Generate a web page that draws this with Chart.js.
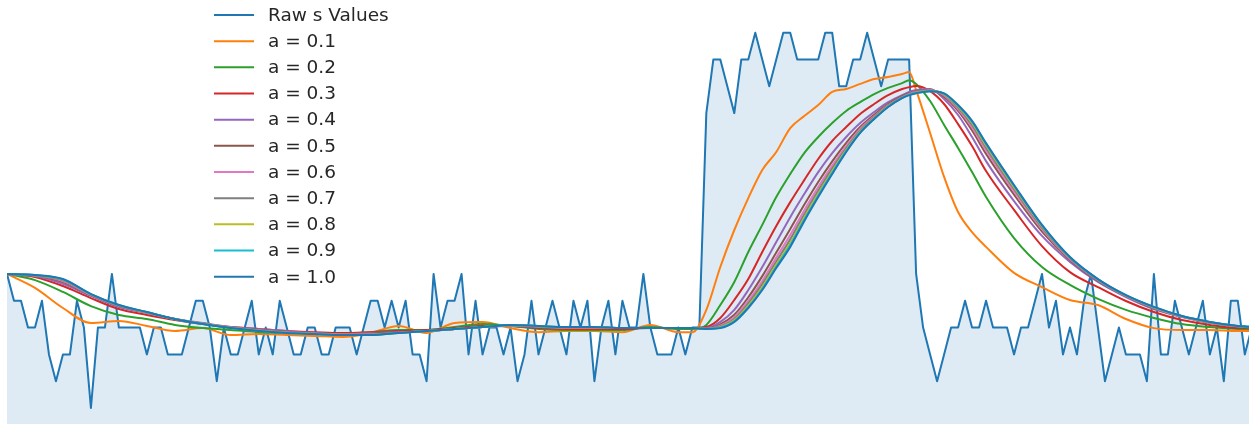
<!DOCTYPE html>
<html>
<head>
<meta charset="utf-8">
<script src="https://cdn.jsdelivr.net/npm/chart.js@4.4.1/dist/chart.umd.min.js"></script>
<style>
  html, body { margin: 0; padding: 0; background: #ffffff; overflow: hidden; }
  canvas { display: block; }
</style>
</head>
<body>
<canvas id="chart" width="1260" height="424"></canvas>
<script>
// Raw s values, one per step (step index = position in the array)
const rawValues = [
  6,5,5,4,4,5,3,2,3,3,
  5,4,1,4,4,6,4,4,4,4,
  3,4,4,3,3,3,4,5,5,4,
  2,4,3,3,4,5,3,4,3,5,
  4,3,3,4,4,3,3,4,4,4,
  3,4,5,5,4,5,4,5,3,3,
  2,6,4,5,5,6,3,5,3,4,
  4,3,4,2,3,5,3,4,5,4,
  3,5,4,5,2,4,5,3,5,4,
  4,6,4,3,3,3,4,3,4,4,
  12,14,14,13,12,14,14,15,14,13,
  14,15,15,14,14,14,14,15,15,13,
  13,14,14,15,14,13,14,14,14,14,
  6,4,3,2,3,4,4,5,4,4,
  5,4,4,4,3,4,4,5,6,4,
  5,3,4,3,5,6,4,2,3,4,
  3,3,3,2,6,3,3,5,4,3,
  4,5,3,4,2,5,5,3,4
];

// Steps at which the smoothed curves are sampled
const smoothIdx = [
  0,4,8,12,16,20,24,28,32,36,40,44,48,52,56,60,64,68,72,76,80,84,88,92,96,98,100,
  102,104,106,108,110,112,114,116,118,120,122,124,126,128,129,130,132,134,136,138,140,
  144,148,152,156,160,164,168,172,176,178
];

// Smoothed series, one value per entry of smoothIdx
const a01 = [6.00,5.48,4.73,4.17,4.25,4.06,3.87,3.98,3.72,3.76,3.72,3.69,3.65,3.80,4.06,3.80,4.17,4.21,3.98,3.83,3.87,3.87,3.83,4.10,3.83,3.83,4.66,
  6.26,7.64,8.83,9.88,10.55,11.44,11.89,12.30,12.79,12.90,13.09,13.27,13.35,13.46,13.53,12.86,11.26,9.62,8.31,7.56,7.01,
  6.04,5.51,5.03,4.84,4.32,3.98,3.91,3.91,3.87,3.87];
const a02 = [6.00,5.77,5.33,4.80,4.47,4.32,4.10,3.98,3.91,3.83,3.80,3.80,3.76,3.83,3.91,3.91,4.02,4.13,4.06,3.95,3.91,3.91,3.91,4.02,3.95,3.95,4.10,
  4.84,5.70,6.82,7.83,8.87,9.73,10.51,11.11,11.63,12.08,12.41,12.71,12.94,13.12,13.23,13.09,12.45,11.56,10.70,9.80,8.87,
  7.34,6.26,5.59,5.07,4.66,4.36,4.13,4.02,3.95,3.95];
const a03 = [6.00,5.89,5.55,5.10,4.69,4.47,4.28,4.13,4.02,3.95,3.87,3.83,3.80,3.83,3.87,3.91,3.98,4.06,4.06,3.98,3.95,3.95,3.95,3.98,3.98,3.98,4.02,
  4.36,5.03,5.81,6.82,7.79,8.68,9.50,10.29,10.96,11.48,11.97,12.34,12.67,12.90,12.97,13.01,12.82,12.34,11.59,10.77,9.84,
  8.39,7.04,6.07,5.51,4.99,4.58,4.28,4.10,3.98,3.98];
const a04 = [6.00,5.92,5.63,5.18,4.77,4.54,4.32,4.17,4.02,3.95,3.87,3.80,3.76,3.80,3.83,3.87,3.95,4.02,4.06,4.02,3.98,3.98,3.98,3.98,3.98,3.98,3.98,
  4.21,4.66,5.40,6.26,7.19,8.12,8.98,9.80,10.51,11.11,11.63,12.04,12.41,12.67,12.79,12.86,12.90,12.53,11.93,11.11,10.21,
  8.72,7.42,6.45,5.70,5.14,4.69,4.39,4.17,4.04,4.00];
const a05 = [6.00,5.94,5.70,5.21,4.80,4.56,4.32,4.15,4.00,3.92,3.84,3.78,3.74,3.77,3.82,3.87,3.95,4.02,4.08,4.04,4.00,4.00,3.98,3.98,3.98,3.98,3.95,
  4.12,4.48,5.13,5.92,6.80,7.68,8.58,9.43,10.20,10.89,11.48,11.94,12.34,12.63,12.74,12.81,12.87,12.61,12.08,11.35,10.48,
  8.96,7.58,6.52,5.74,5.17,4.72,4.41,4.19,4.05,4.01];
const a06 = [6.00,5.94,5.74,5.22,4.81,4.56,4.32,4.15,4.00,3.90,3.83,3.78,3.74,3.75,3.81,3.87,3.95,4.02,4.08,4.04,4.00,4.00,3.98,3.98,3.98,3.98,3.95,
  4.07,4.39,5.00,5.74,6.61,7.45,8.37,9.24,10.04,10.77,11.41,11.88,12.30,12.60,12.72,12.79,12.85,12.66,12.15,11.47,10.61,
  9.08,7.67,6.56,5.77,5.18,4.74,4.41,4.19,4.05,4.01];
const a07 = [6.00,5.95,5.77,5.23,4.82,4.57,4.32,4.14,3.99,3.89,3.82,3.77,3.73,3.74,3.81,3.87,3.95,4.02,4.09,4.05,4.01,4.01,3.98,3.98,3.98,3.98,3.95,
  4.04,4.32,4.90,5.62,6.46,7.29,8.22,9.10,9.93,10.69,11.35,11.85,12.28,12.59,12.70,12.77,12.84,12.69,12.21,11.56,10.71,
  9.17,7.73,6.59,5.78,5.19,4.75,4.42,4.20,4.05,4.02];
const a08 = [6.00,5.95,5.79,5.24,4.83,4.57,4.32,4.14,3.99,3.88,3.81,3.77,3.73,3.73,3.80,3.87,3.95,4.02,4.09,4.05,4.01,4.01,3.98,3.98,3.98,3.98,3.95,
  4.01,4.27,4.82,5.51,6.35,7.15,8.10,8.99,9.83,10.62,11.31,11.81,12.25,12.57,12.69,12.76,12.83,12.71,12.25,11.63,10.79,
  9.24,7.78,6.61,5.80,5.20,4.76,4.42,4.20,4.06,4.02];
const a09 = [6.00,5.96,5.80,5.25,4.84,4.58,4.32,4.13,3.98,3.87,3.80,3.76,3.72,3.72,3.80,3.87,3.95,4.02,4.10,4.06,4.02,4.02,3.98,3.98,3.98,3.98,3.95,
  3.99,4.23,4.76,5.44,6.27,7.07,8.02,8.92,9.77,10.58,11.28,11.79,12.24,12.57,12.68,12.75,12.82,12.73,12.28,11.68,10.85,
  9.29,7.81,6.62,5.80,5.21,4.77,4.43,4.21,4.06,4.02];
const a10 = [6.00,5.96,5.81,5.25,4.84,4.58,4.32,4.13,3.98,3.87,3.80,3.76,3.72,3.72,3.80,3.87,3.95,4.02,4.10,4.06,4.02,4.02,3.98,3.98,3.98,3.98,3.95,
  3.98,4.21,4.73,5.40,6.22,7.01,7.97,8.87,9.73,10.55,11.26,11.78,12.23,12.56,12.67,12.74,12.82,12.74,12.30,11.71,10.88,
  9.32,7.83,6.63,5.81,5.21,4.77,4.43,4.21,4.06,4.02];

const seriesLabels = ['Raw s Values', 'a = 0.1', 'a = 0.2', 'a = 0.3', 'a = 0.4', 'a = 0.5',
                      'a = 0.6', 'a = 0.7', 'a = 0.8', 'a = 0.9', 'a = 1.0'];
const seriesColors = ['#1f77b4', '#ff7f0e', '#2ca02c', '#d62728', '#9467bd', '#8c564b',
                      '#e377c2', '#7f7f7f', '#bcbd22', '#17becf', '#1f77b4'];

const smoothSeries = [a01, a02, a03, a04, a05, a06, a07, a08, a09, a10];

const rawPoints = rawValues.map((v, i) => ({ x: i, y: v }));
const smoothPoints = ys => ys.map((v, i) => ({ x: smoothIdx[i], y: v }));

const datasets = [{
  label: seriesLabels[0],
  data: rawPoints,
  borderColor: seriesColors[0],
  backgroundColor: 'rgba(31,119,180,0.15)',
  borderWidth: 2,
  fill: 'start',
  tension: 0,
  order: 20
}].concat(smoothSeries.map((ys, k) => ({
  label: seriesLabels[k + 1],
  data: smoothPoints(ys),
  borderColor: seriesColors[k + 1],
  backgroundColor: seriesColors[k + 1],
  borderWidth: 2,
  fill: false,
  cubicInterpolationMode: 'monotone',
  order: 10 - k
})));

// Legend drawn inside the plot, matching the dataset list order
const inlineLegend = {
  id: 'inlineLegend',
  afterDraw(chart) {
    const ctx = chart.ctx;
    ctx.save();
    ctx.font = '18.5px "DejaVu Sans", sans-serif';
    ctx.textBaseline = 'middle';
    ctx.textAlign = 'left';
    chart.data.datasets.forEach((ds, k) => {
      const y = 15 + k * 26.17;
      ctx.strokeStyle = ds.borderColor;
      ctx.lineWidth = 2;
      ctx.lineCap = 'butt';
      ctx.beginPath();
      ctx.moveTo(214, y);
      ctx.lineTo(254, y);
      ctx.stroke();
      ctx.fillStyle = '#262626';
      ctx.fillText(ds.label, 268, y + 1);
    });
    ctx.restore();
  }
};

new Chart(document.getElementById('chart'), {
  type: 'line',
  data: { datasets },
  options: {
    responsive: false,
    animation: false,
    devicePixelRatio: 1,
    layout: { padding: { left: 7, right: 11, top: 0, bottom: 0 } },
    plugins: { legend: { display: false }, tooltip: { enabled: false } },
    elements: {
      point: { radius: 0, hoverRadius: 0 },
      line: { borderJoinStyle: 'round', borderCapStyle: 'butt' }
    },
    scales: {
      x: { type: 'linear', min: 0, max: 177.6, display: false },
      y: { type: 'linear', min: 0.403, max: 16.22, display: false }
    }
  },
  plugins: [inlineLegend]
});
</script>
</body>
</html>
